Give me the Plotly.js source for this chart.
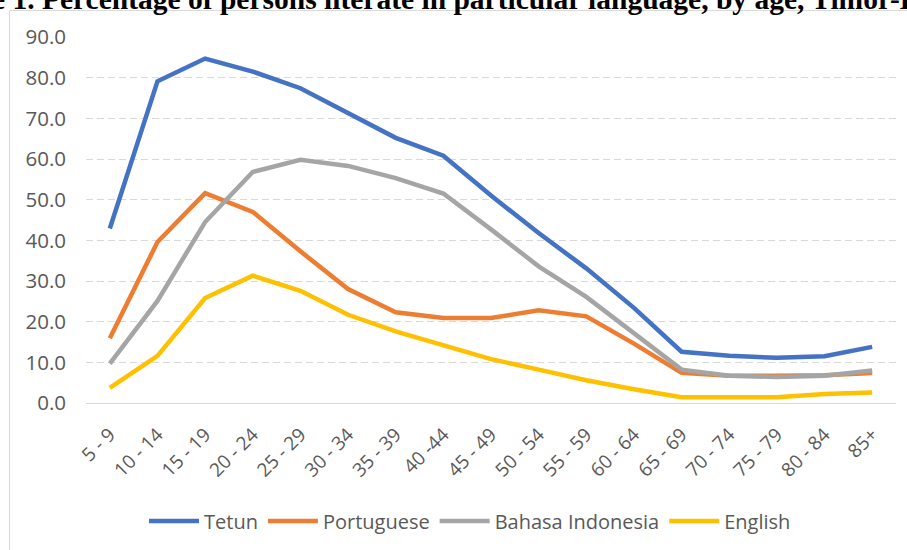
<!DOCTYPE html>
<html>
<head>
<meta charset="utf-8">
<script src="https://cdn.plot.ly/plotly-3.0.1.min.js"></script>
<style>html,body{margin:0;padding:0;background:#fff;}#chart{width:907px;height:550px;}</style>
</head>
<body>
<div id="chart"></div>
<script>
const ageGroups = ["5 - 9","10 - 14","15 - 19","20 - 24","25 - 29","30 - 34","35 - 39","40 -44","45 - 49","50 - 54","55 - 59","60 - 64","65 - 69","70 - 74","75 - 79","80 - 84","85+"];
const tetun      = [42.9, 79.1, 84.7, 81.5, 77.4, 71.2, 65.2, 60.8, 51.0, 41.8, 33.1, 23.4, 12.6, 11.6, 11.1, 11.5, 13.8];
const portuguese = [15.9, 39.6, 51.6, 47.0, 37.3, 28.0, 22.3, 20.9, 20.9, 22.8, 21.3, 14.6, 7.4, 6.7, 6.7, 6.8, 7.4];
const bahasa     = [9.7, 25.1, 44.5, 56.8, 59.8, 58.3, 55.3, 51.5, 42.7, 33.6, 26.1, 17.2, 8.2, 6.7, 6.4, 6.7, 8.0];
const english    = [3.7, 11.6, 25.8, 31.3, 27.6, 21.7, 17.6, 14.1, 10.8, 8.2, 5.6, 3.4, 1.4, 1.4, 1.4, 2.2, 2.6];
const seriesNames = ["Tetun", "Portuguese", "Bahasa Indonesia", "English"];
const yTicks = [0, 10, 20, 30, 40, 50, 60, 70, 80, 90];
const titleText = "Figure 1. Percentage of persons literate in particular language, by age, Timor-Leste";

const colors = ["#4472C4", "#ED7D31", "#A5A5A5", "#FFC000"];
const seriesData = [tetun, portuguese, bahasa, english];

const traces = seriesData.map((vals, i) => ({
  type: "scatter",
  mode: "lines",
  x: ageGroups,
  y: vals,
  name: seriesNames[i],
  line: {color: colors[i], width: 4.5, shape: "linear"},
  hoverinfo: "x+y+name"
}));

const W = 907, H = 550;
const L = 86, R = 11, T = 37, B = 146;
const pw = W - L - R, ph = H - T - B;
const px = v => (v - L) / pw;
const py = v => (H - B - v) / ph;

const layout = {
  width: W, height: H,
  margin: {l: L, r: R, t: T, b: B, pad: 0},
  paper_bgcolor: "#ffffff",
  plot_bgcolor: "#ffffff",
  showlegend: true,
  font: {family: "Open Sans, sans-serif", color: "#595959"},
  xaxis: {
    type: "category",
    range: [-0.5, ageGroups.length - 0.5],
    tickangle: -45,
    tickfont: {size: 19, color: "#595959", family: "Open Sans, sans-serif"},
    showgrid: false,
    zeroline: false,
    showline: true,
    linecolor: "#D9D9D9",
    linewidth: 1,
    ticks: "",
    ticklabelstandoff: 12,
    fixedrange: true
  },
  yaxis: {
    range: [0, 90],
    tickvals: yTicks,
    tickformat: ".1f",
    tickfont: {size: 20.5, color: "#595959", family: "Open Sans, sans-serif"},
    showgrid: true,
    gridcolor: "#D9D9D9",
    griddash: "7px,4px",
    gridwidth: 1,
    zeroline: false,
    showline: false,
    ticks: "",
    ticklabelstandoff: 19,
    fixedrange: true
  },
  legend: {
    orientation: "h",
    x: px(470), xanchor: "center",
    y: py(521), yanchor: "middle",
    font: {size: 20, color: "#595959", family: "Open Sans, sans-serif"},
    itemwidth: 50,
    bgcolor: "rgba(0,0,0,0)"
  },
  shapes: [{
    type: "rect", xref: "paper", yref: "paper",
    x0: px(9.5), x1: px(930), y0: py(570), y1: py(10.5),
    line: {color: "#D9D9D9", width: 1},
    fillcolor: "rgba(0,0,0,0)",
    layer: "below"
  }],
  annotations: [{
    text: "<b>" + titleText + "</b>",
    xref: "paper", yref: "paper",
    x: px(-80), xanchor: "left",
    y: py(17), yanchor: "bottom",
    showarrow: false,
    font: {family: "Liberation Serif, Times New Roman, serif", size: 29.5, color: "#000000"}
  }]
};

Plotly.newPlot("chart", traces, layout, {displayModeBar: false, staticPlot: true});
</script>
</body>
</html>
